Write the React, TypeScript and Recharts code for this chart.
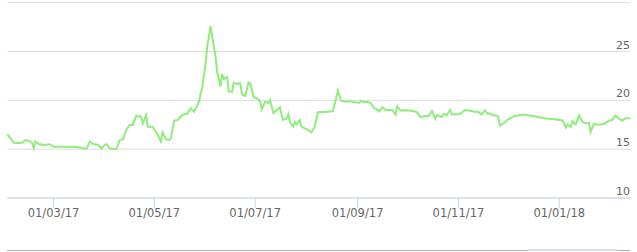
import React from "react";
import { LineChart, Line, XAxis, YAxis, CartesianGrid } from "recharts";

const dates = [
  "2017-02-01", "2017-02-03", "2017-02-05", "2017-02-07", "2017-02-10", "2017-02-12", "2017-02-14", "2017-02-16",
  "2017-02-17", "2017-02-18", "2017-02-20", "2017-02-23", "2017-02-27", "2017-03-01", "2017-03-07", "2017-03-15",
  "2017-03-19", "2017-03-21", "2017-03-23", "2017-03-25", "2017-03-28", "2017-03-30", "2017-04-01", "2017-04-02",
  "2017-04-04", "2017-04-08", "2017-04-10", "2017-04-12", "2017-04-14", "2017-04-16", "2017-04-18", "2017-04-20",
  "2017-04-23", "2017-04-24", "2017-04-26", "2017-04-27", "2017-04-30", "2017-05-03", "2017-05-05", "2017-05-06",
  "2017-05-08", "2017-05-10", "2017-05-11", "2017-05-13", "2017-05-15", "2017-05-18", "2017-05-21", "2017-05-23",
  "2017-05-25", "2017-05-28", "2017-05-29", "2017-05-30", "2017-06-01", "2017-06-02", "2017-06-04", "2017-06-05",
  "2017-06-07", "2017-06-08", "2017-06-10", "2017-06-11", "2017-06-12", "2017-06-14", "2017-06-15", "2017-06-17",
  "2017-06-18", "2017-06-20", "2017-06-22", "2017-06-23", "2017-06-25", "2017-06-27", "2017-06-28", "2017-06-30",
  "2017-07-03", "2017-07-04", "2017-07-05", "2017-07-07", "2017-07-09", "2017-07-10", "2017-07-12", "2017-07-14",
  "2017-07-16", "2017-07-17", "2017-07-18", "2017-07-20", "2017-07-21", "2017-07-22", "2017-07-24", "2017-07-25",
  "2017-07-26", "2017-07-28", "2017-07-29", "2017-07-31", "2017-08-02", "2017-08-04", "2017-08-06", "2017-08-08",
  "2017-08-14", "2017-08-17", "2017-08-19", "2017-08-20", "2017-08-22", "2017-08-25", "2017-08-27", "2017-08-30",
  "2017-09-02", "2017-09-03", "2017-09-05", "2017-09-07", "2017-09-09", "2017-09-11", "2017-09-13", "2017-09-14",
  "2017-09-16", "2017-09-18", "2017-09-22", "2017-09-24", "2017-09-25", "2017-09-27", "2017-10-01", "2017-10-05",
  "2017-10-07", "2017-10-09", "2017-10-12", "2017-10-14", "2017-10-16", "2017-10-17", "2017-10-18", "2017-10-19",
  "2017-10-22", "2017-10-23", "2017-10-25", "2017-10-27", "2017-10-28", "2017-10-30", "2017-11-02", "2017-11-05",
  "2017-11-08", "2017-11-11", "2017-11-13", "2017-11-15", "2017-11-17", "2017-11-19", "2017-11-20", "2017-11-22",
  "2017-11-23", "2017-11-25", "2017-11-26", "2017-11-29", "2017-12-01", "2017-12-05", "2017-12-10", "2017-12-16",
  "2017-12-23", "2017-12-29", "2018-01-03", "2018-01-05", "2018-01-06", "2018-01-08", "2018-01-09", "2018-01-11",
  "2018-01-13", "2018-01-15", "2018-01-17", "2018-01-19", "2018-01-20", "2018-01-22", "2018-01-25", "2018-01-28",
  "2018-01-31", "2018-02-02", "2018-02-04", "2018-02-06", "2018-02-08", "2018-02-10", "2018-02-13",
];

const values = [
  16.52, 16.11, 15.66, 15.63, 15.66, 15.94, 15.87, 15.63,
  15.07, 15.79, 15.53, 15.43, 15.5, 15.25, 15.25, 15.22,
  15.09, 15.02, 15.79, 15.53, 15.43, 15.09, 15.43, 15.53,
  15.07, 15.02, 15.94, 16.01, 16.96, 17.48, 17.48, 18.4,
  18.33, 17.63, 18.5, 17.3, 17.3, 16.45, 15.77, 16.69,
  16.01, 15.94, 16.11, 17.92, 17.99, 18.5, 18.65, 19.19,
  18.84, 19.83, 20.72, 21.37, 23.79, 25.49, 27.61, 26.52,
  24.47, 22.93, 21.4, 22.7, 22.19, 22.39, 20.91, 20.86,
  21.81, 21.67, 21.75, 20.6, 20.45, 21.81, 21.75, 20.37,
  20.11, 19.86, 19.08, 19.86, 19.73, 20.04, 18.7, 19.01,
  19.29, 18.5, 17.99, 18.14, 18.6, 17.78, 17.32, 17.81,
  17.53, 17.99, 17.32, 17.14, 16.96, 16.73, 17.3, 18.78,
  18.84, 18.91, 20.21, 21.01, 19.96, 19.86, 19.93, 19.8,
  19.76, 19.96, 19.78, 19.86, 19.7, 19.19, 19.06, 18.86,
  19.29, 18.98, 19.01, 18.55, 19.39, 18.96, 18.98, 18.88,
  18.79, 18.29, 18.4, 18.4, 18.91, 18.5, 18.09, 18.5,
  18.29, 18.6, 18.5, 19.01, 18.55, 18.57, 18.6, 19.01,
  18.94, 18.84, 18.84, 18.55, 18.98, 18.62, 18.67, 18.45,
  18.5, 18.37, 17.42, 17.73, 18.06, 18.4, 18.55, 18.4,
  18.16, 18.06, 17.94, 17.22, 17.53, 17.27, 17.89, 17.53,
  18.45, 17.81, 17.63, 17.71, 16.76, 17.58, 17.5, 17.58,
  17.92, 17.99, 18.45, 18.16, 17.92, 18.16, 18.16,
];

const xTickDates = ["2017-03-01", "2017-05-01", "2017-07-01", "2017-09-01", "2017-11-01", "2018-01-01"];
const yTicks = [10, 15, 20, 25, 30];

const data = dates.map((d, i) => ({ t: Date.parse(d), value: values[i] }));
const xTicks = xTickDates.map((d) => Date.parse(d));

const pad = (n: number) => (n < 10 ? "0" + n : String(n));
const fmtDate = (t: number) => {
  const d = new Date(t);
  return `${pad(d.getUTCDate())}/${pad(d.getUTCMonth() + 1)}/${pad(d.getUTCFullYear() % 100)}`;
};

const FONT = "'DejaVu Sans', sans-serif";

// y labels sit right-aligned just above their gridline, inside the plot
const renderYTick = (props: any) => {
  const { y, payload } = props;
  if (payload.value === 30) return <g />;
  return (
    <text x={630} y={y - 3} textAnchor="end" fill="#666" fontSize={11} fontFamily={FONT}>
      {payload.value}
    </text>
  );
};

const App = () => (
  <div style={{ position: "absolute", left: 0, top: 0, width: 637, height: 252, background: "#fff" }}>
    <LineChart width={637} height={252} data={data} margin={{ top: 2.7, right: 5.7, left: 7.3, bottom: 24 }}>
      <CartesianGrid vertical={false} stroke="#dcdcdc" />
      <XAxis
        dataKey="t"
        type="number"
        scale="time"
        domain={["dataMin", "dataMax"]}
        ticks={xTicks}
        tickFormatter={fmtDate}
        height={30}
        tickSize={10}
        tickMargin={1}
        axisLine={{ stroke: "#ccd6eb" }}
        tickLine={{ stroke: "#ccd6eb" }}
        tick={{ fill: "#666", fontSize: 11.5, fontFamily: FONT }}
      />
      <YAxis
        orientation="right"
        width={1}
        domain={[10, 30]}
        ticks={yTicks}
        axisLine={false}
        tickLine={false}
        tick={renderYTick}
      />
      <Line
        type="linear"
        dataKey="value"
        stroke="#90ed7d"
        strokeWidth={2}
        dot={false}
        isAnimationActive={false}
      />
    </LineChart>
    <div style={{ position: "absolute", left: 7, top: 250, width: 623, height: 1, background: "#b0b0b0" }} />
    <div style={{ position: "absolute", left: 528, top: 249, width: 89, height: 2, background: "#d6dde8" }} />
  </div>
);

export default App;
